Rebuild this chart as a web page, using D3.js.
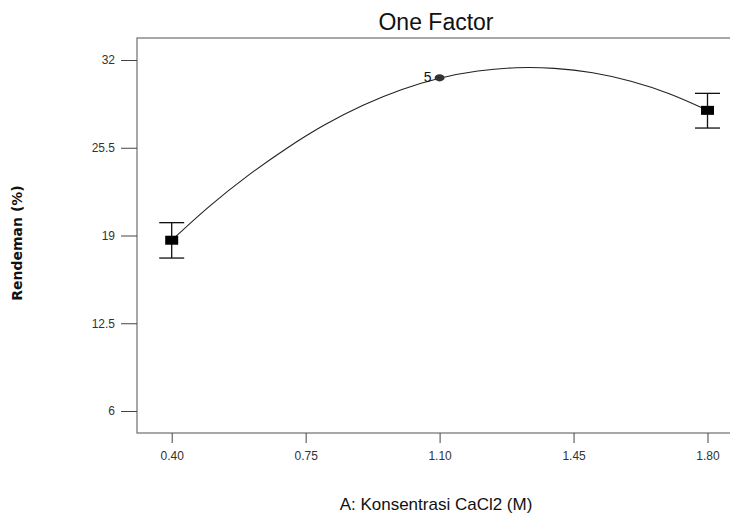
<!DOCTYPE html>
<html>
<head>
<meta charset="utf-8">
<script src="https://cdn.jsdelivr.net/npm/d3@7"></script>
<style>
  html, body { margin: 0; padding: 0; background: #fff; }
  svg { display: block; }
</style>
</head>
<body>
<svg id="chart" width="730" height="515"></svg>
<script>
// ---- data ----
const title = "One Factor";
const xLabel = "A: Konsentrasi CaCl2 (M)";
const yLabel = "Rendeman (%)";
const xTicks = [0.40, 0.75, 1.10, 1.45, 1.80];
const yTicks = [6, 12.5, 19, 25.5, 32];

// design points with least-significant-difference bars
const barX = [0.40, 1.80];
const barMean = [18.65, 28.27];
const barLow = [17.33, 26.96];
const barHigh = [19.95, 29.53];

// replicated center point
const repX = [1.10];
const repY = [30.68];
const repLabel = ["5"];

// fitted curve
const curveX = [0.40, 0.50, 0.60, 0.70, 0.80, 0.90, 1.00, 1.10, 1.20, 1.30, 1.40, 1.50, 1.60, 1.70, 1.80];
const curveY = [18.65, 21.2, 23.45, 25.45, 27.2, 28.65, 29.8, 30.65, 31.18, 31.43, 31.38, 31.05, 30.42, 29.5, 28.27];

// ---- layout ----
const svg = d3.select("#chart");
const boxL = 137, boxT = 38, boxB = 433, boxR = 742;

const x = d3.scaleLinear().domain([0.40, 1.80]).range([171.7, 707.5]);
const y = d3.scaleLinear().domain([6, 32]).range([411, 60]);

// frame
svg.append("rect")
  .attr("x", boxL).attr("y", boxT)
  .attr("width", boxR - boxL).attr("height", boxB - boxT)
  .attr("fill", "none").attr("stroke", "#6e6e6e").attr("stroke-width", 1.2);

// y axis
const yAxis = svg.append("g").attr("transform", `translate(${boxL},0)`)
  .call(d3.axisLeft(y).tickValues(yTicks).tickSize(16).tickPadding(6)
    .tickFormat(d => String(d)));
yAxis.select(".domain").remove();
yAxis.selectAll("line").attr("stroke", "#444");
yAxis.selectAll("text").attr("font-family", "Liberation Sans, Arial, sans-serif")
  .attr("font-size", 12).attr("fill", "#333");

// x axis
const xAxis = svg.append("g").attr("transform", `translate(0,${boxB})`)
  .call(d3.axisBottom(x).tickValues(xTicks).tickSize(10).tickPadding(8)
    .tickFormat(d3.format(".2f")));
xAxis.select(".domain").remove();
xAxis.selectAll("line").attr("stroke", "#444");
xAxis.selectAll("text").attr("font-family", "Liberation Sans, Arial, sans-serif")
  .attr("font-size", 12).attr("fill", "#333");

// title
svg.append("text").attr("x", 436).attr("y", 30).attr("text-anchor", "middle")
  .attr("font-family", "Liberation Sans, Arial, sans-serif").attr("font-size", 23)
  .attr("fill", "#111").text(title);

// x label
svg.append("text").attr("x", 436).attr("y", 510).attr("text-anchor", "middle")
  .attr("font-family", "Liberation Sans, Arial, sans-serif").attr("font-size", 17)
  .attr("fill", "#111").text(xLabel);

// y label
svg.append("text")
  .attr("transform", "translate(22,243) rotate(-90)")
  .attr("text-anchor", "middle")
  .attr("font-family", "DejaVu Sans, Verdana, sans-serif").attr("font-size", 14)
  .attr("font-weight", "bold")
  .attr("fill", "#111").text(yLabel);

// fitted curve
const pts = curveX.map((d, i) => [d, curveY[i]]);
svg.append("path").datum(pts)
  .attr("d", d3.line().x(d => x(d[0])).y(d => y(d[1])).curve(d3.curveCatmullRom))
  .attr("fill", "none").attr("stroke", "#222").attr("stroke-width", 1.1);

// error bars
const capW = 12.5;
barX.forEach((xv, i) => {
  const g = svg.append("g").attr("stroke", "#111").attr("stroke-width", 1.3);
  g.append("line").attr("x1", x(xv)).attr("x2", x(xv))
    .attr("y1", y(barHigh[i])).attr("y2", y(barLow[i]));
  g.append("line").attr("x1", x(xv) - capW).attr("x2", x(xv) + capW)
    .attr("y1", y(barHigh[i])).attr("y2", y(barHigh[i]));
  g.append("line").attr("x1", x(xv) - capW).attr("x2", x(xv) + capW)
    .attr("y1", y(barLow[i])).attr("y2", y(barLow[i]));
  svg.append("rect").attr("x", x(xv) - 6.5).attr("y", y(barMean[i]) - 4.5)
    .attr("width", 13).attr("height", 9).attr("fill", "#000");
});

// replicate point
repX.forEach((xv, i) => {
  svg.append("ellipse").attr("cx", x(xv)).attr("cy", y(repY[i]))
    .attr("rx", 5).attr("ry", 3.6).attr("fill", "#333");
  svg.append("text").attr("x", x(xv) - 8).attr("y", y(repY[i]) + 4.5)
    .attr("text-anchor", "end")
    .attr("font-family", "Liberation Sans, Arial, sans-serif").attr("font-size", 14)
    .attr("fill", "#111").text(repLabel[i]);
});
</script>
</body>
</html>
